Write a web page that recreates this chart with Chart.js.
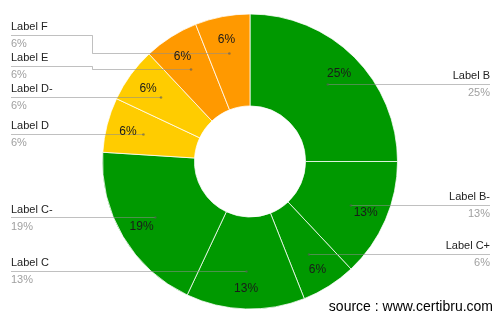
<!DOCTYPE html>
<html>
<head>
<meta charset="utf-8">
<script src="https://cdn.jsdelivr.net/npm/chart.js@4/dist/chart.umd.min.js"></script>
<style>
html,body{margin:0;padding:0;background:#fff;}
#wrap{position:relative;width:500px;height:320px;}
</style>
</head>
<body>
<div id="wrap"><canvas id="c" width="500" height="320"></canvas></div>
<script>
const categories = ['Label B','Label B-','Label C+','Label C','Label C-','Label D','Label D-','Label E','Label F'];
const values = [25, 13, 6, 13, 19, 6, 6, 6, 6];
const colors = ['#009900','#009900','#009900','#009900','#009900','#ffcc00','#ffcc00','#ff9900','#ff9900'];
const sourceText = 'source : www.certibru.com';

const FONT = '"Liberation Sans", Arial, sans-serif';

const labelPlugin = {
  id: 'outLabels',
  afterDraw(chart) {
    const ctx = chart.ctx;
    const meta = chart.getDatasetMeta(0);
    const total = values.reduce((a, b) => a + b, 0);
    const items = meta.data.map((arc, i) => {
      const p = arc.getProps(['x','y','startAngle','endAngle','outerRadius'], true);
      const mid = (p.startAngle + p.endAngle) / 2;
      const pct = Math.round(values[i] / total * 100) + '%';
      return {
        i, pct, cx: p.x, cy: p.y, mid,
        lx: p.x + 126 * Math.cos(mid), ly: p.y + 126 * Math.sin(mid) + 1.5,
        dx: p.x + 110 * Math.cos(mid), dy: p.y + 110 * Math.sin(mid)
      };
    });

    // layout outer labels
    const left = items.filter(it => it.dx < it.cx).sort((a, b) => b.dy - a.dy);
    const right = items.filter(it => it.dx >= it.cx).sort((a, b) => a.dy - b.dy);
    const gap = 31;
    let prev = Infinity;
    left.forEach(it => { it.ty = Math.min(it.dy, prev - gap); prev = it.ty; });
    prev = -Infinity;
    right.forEach(it => { it.ty = Math.max(it.dy, prev + gap); prev = it.ty; });

    const drawOne = (it, side) => {
      const tx = side === 'left' ? 11 : 490;
      const jx = side === 'left' ? 92 : 408;
      ctx.save();
      ctx.strokeStyle = 'rgba(140,140,140,0.55)';
      ctx.lineWidth = 1;
      ctx.beginPath();
      const y = Math.round(it.ty) + 0.5;
      const dy = Math.round(it.dy) + 0.5;
      ctx.moveTo(tx, y);
      if (Math.abs(y - dy) > 0.6) {
        ctx.lineTo(jx + 0.5, y);
        ctx.lineTo(jx + 0.5, dy);
        ctx.lineTo(it.dx, dy);
      } else {
        ctx.lineTo(it.dx, y);
      }
      ctx.stroke();
      ctx.fillStyle = 'rgba(90,90,90,0.6)';
      ctx.beginPath();
      ctx.arc(it.dx, dy, 1.3, 0, Math.PI * 2);
      ctx.fill();
      ctx.textAlign = side === 'left' ? 'left' : 'right';
      ctx.textBaseline = 'middle';
      ctx.font = '11px ' + FONT;
      ctx.fillStyle = '#222222';
      ctx.fillText(categories[it.i], tx, it.ty - 8);
      ctx.fillStyle = '#a0a0a0';
      ctx.fillText(it.pct, tx, it.ty + 9);
      ctx.restore();
    };
    left.forEach(it => drawOne(it, 'left'));
    right.forEach(it => drawOne(it, 'right'));

    // inner percentage labels
    ctx.save();
    ctx.font = '12px ' + FONT;
    ctx.fillStyle = '#1a1a1a';
    ctx.textAlign = 'center';
    ctx.textBaseline = 'middle';
    items.forEach(it => ctx.fillText(it.pct, it.lx, it.ly));
    ctx.restore();

    // source
    ctx.save();
    ctx.font = '14px ' + FONT;
    ctx.fillStyle = '#000';
    ctx.textAlign = 'right';
    ctx.textBaseline = 'middle';
    ctx.fillText(sourceText, 493, 307);
    ctx.restore();
  }
};

new Chart(document.getElementById('c'), {
  type: 'doughnut',
  data: {
    labels: categories,
    datasets: [{
      data: values,
      backgroundColor: colors,
      borderColor: 'rgba(255,255,255,0.75)',
      borderWidth: 1,
      hoverBorderWidth: 1,
      hoverOffset: 0
    }]
  },
  options: {
    responsive: false,
    maintainAspectRatio: false,
    animation: false,
    radius: 147.5,
    cutout: 59.5,
    layout: { padding: { top: 3, bottom: 0, left: 0, right: 0 } },
    plugins: { legend: { display: false }, tooltip: { enabled: false } },
    events: []
  },
  plugins: [labelPlugin]
});
</script>
</body>
</html>
